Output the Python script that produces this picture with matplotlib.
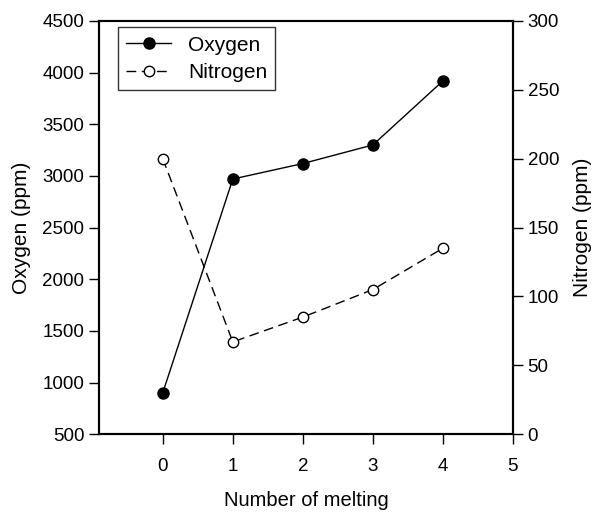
import matplotlib

matplotlib.use("Agg")
import matplotlib.pyplot as plt  # noqa: E402

plt.rcParams["font.family"] = ["Liberation Sans", "DejaVu Sans"]

# Oxygen / nitrogen content vs number of melting
melting = [0, 1, 2, 3, 4]
oxygen = [900, 2970, 3120, 3300, 3920]
nitrogen = [200, 67, 85, 105, 135]

xticks = [0, 1, 2, 3, 4, 5]
o_ticks = [500, 1000, 1500, 2000, 2500, 3000, 3500, 4000, 4500]
n_ticks = [0, 50, 100, 150, 200, 250, 300]

fig = plt.figure(figsize=(5.93, 5.12), dpi=100)
ax = fig.add_axes([0.167, 0.152, 0.698, 0.807])
ax2 = ax.twinx()

l1, = ax.plot(melting, oxygen, "-", color="black", lw=1.0, marker="o", ms=8,
              mfc="black", mec="black", label="Oxygen")
l2, = ax2.plot(melting, nitrogen, "--", color="black", lw=1.0, marker="o", ms=7.5,
               mfc="white", mec="black", mew=1.0, dashes=(7, 4), label="Nitrogen")

ax.set_xlim(-0.91, 5)
ax.set_ylim(500, 4500)
ax2.set_ylim(0, 300)
ax.set_xticks(xticks)
ax.set_yticks(o_ticks)
ax2.set_yticks(n_ticks)

for a in (ax, ax2):
    a.tick_params(direction="out", length=7, width=1, labelsize=13.5)
    for s in a.spines.values():
        s.set_linewidth(1.5)
ax.tick_params(axis="x", pad=10)

ax.set_xlabel("Number of melting", fontsize=14.5, labelpad=12)
ax.set_ylabel("Oxygen (ppm)", fontsize=15, labelpad=8)
ax2.set_ylabel("Nitrogen (ppm)", fontsize=15, labelpad=10)

leg = ax.legend(handles=[l1, l2], loc="upper left", fontsize=15, frameon=True,
                fancybox=False, edgecolor="black", handlelength=2.15,
                labelspacing=0.4, borderaxespad=0, bbox_to_anchor=(0.046, 0.985))
leg.get_frame().set_linewidth(1.0)

fig.savefig("out.png", dpi=100)
plt.close(fig)
